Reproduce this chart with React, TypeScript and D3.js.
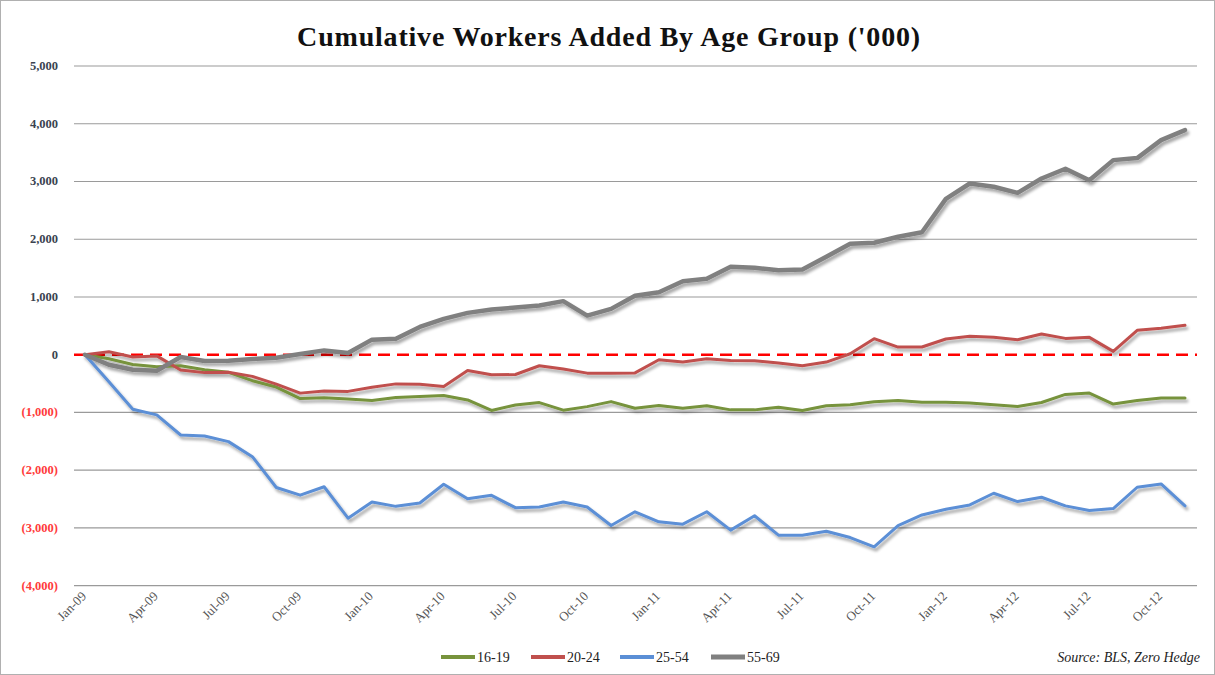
import React from "react";
import * as d3 from "d3";

const W = 1215;
const H = 675;

const months: string[] = (() => {
  const names = ["Jan", "Feb", "Mar", "Apr", "May", "Jun", "Jul", "Aug", "Sep", "Oct", "Nov", "Dec"];
  const out: string[] = [];
  for (let y = 9; y <= 12; y++) {
    for (let m = 0; m < 12; m++) {
      out.push(`${names[m]}-${String(y).padStart(2, "0")}`);
    }
  }
  return out.slice(0, 47); // Jan-09 .. Nov-12
})();

const xTickLabels = [
  "Jan-09", "Apr-09", "Jul-09", "Oct-09",
  "Jan-10", "Apr-10", "Jul-10", "Oct-10",
  "Jan-11", "Apr-11", "Jul-11", "Oct-11",
  "Jan-12", "Apr-12", "Jul-12", "Oct-12",
];

const yTicks = [5000, 4000, 3000, 2000, 1000, 0, -1000, -2000, -3000, -4000];

const age1619 = [
  0, -70, -170, -210, -190, -260, -305, -450, -560, -760, -745, -768,
  -794, -742, -725, -707, -783, -965, -870, -829, -960, -899, -812, -928,
  -880, -926, -885, -955, -955, -909, -966, -885, -868, -816, -793, -821,
  -821, -838, -867, -896, -827, -688, -665, -855, -792, -751, -751,
];

const age2024 = [
  0, 50, -40, -20, -265, -310, -305, -375, -510, -665, -630, -635,
  -562, -505, -510, -551, -272, -348, -342, -191, -249, -319, -319, -315,
  -87, -127, -69, -98, -104, -145, -191, -127, 17, 278, 133, 133,
  272, 318, 301, 260, 358, 283, 301, 58, 422, 457, 509,
];

const age2554 = [
  0, -470, -945, -1042, -1390, -1407, -1505, -1766, -2299, -2432, -2287, -2830,
  -2551, -2626, -2568, -2243, -2493, -2435, -2649, -2638, -2551, -2638, -2957, -2720,
  -2894, -2934, -2720, -3038, -2789, -3125, -3125, -3056, -3166, -3328, -2958, -2775,
  -2676, -2601, -2399, -2543, -2468, -2618, -2699, -2665, -2295, -2237, -2618,
];

const age5569 = [
  0, -174, -260, -278, -40, -110, -104, -75, -52, 12, 75, 30,
  261, 278, 481, 620, 725, 783, 817, 852, 928, 678, 794, 1020,
  1082, 1273, 1314, 1522, 1505, 1464, 1476, 1696, 1921, 1939, 2043, 2121,
  2699, 2965, 2908, 2803, 3052, 3220, 3023, 3370, 3405, 3717, 3890,
];

const seriesNames = ["16-19", "20-24", "25-54", "55-69"];
const seriesColors = ["#77933c", "#c0504d", "#5b8fd6", "#808080"];
const seriesWidths = [3, 3, 3, 4.5];
const seriesData = [age1619, age2024, age2554, age5569];

const SERIF = "'Liberation Serif', 'DejaVu Serif', serif";

export default function App() {
  const x = d3.scalePoint<string>().domain(months).range([85, 1185]);
  const y = d3.scaleLinear().domain([-4000, 5000]).range([585.7, 66]);
  const gridX0 = 74;
  const gridX1 = 1197;

  const line = d3
    .line<number>()
    .x((_, i) => x(months[i]) as number)
    .y((d) => y(d));

  const fmt = (v: number) => (v < 0 ? `(${d3.format(",")(-v)})` : d3.format(",")(v));

  const legendItems = [
    { lx: 441, tx: 477 },
    { lx: 531, tx: 567 },
    { lx: 620, tx: 656 },
    { lx: 711, tx: 747 },
  ];

  const order = [2, 0, 1, 3];

  return (
    <svg
      width={W}
      height={H}
      style={{ position: "absolute", left: 0, top: 0, background: "#fff" }}
    >
      <defs>
        <filter id="shadow" x="-5%" y="-5%" width="110%" height="120%">
          <feGaussianBlur in="SourceAlpha" stdDeviation="1.5" />
          <feOffset dx="1.5" dy="2.5" result="off" />
          <feComponentTransfer>
            <feFuncA type="linear" slope="0.35" />
          </feComponentTransfer>
          <feMerge>
            <feMergeNode />
            <feMergeNode in="SourceGraphic" />
          </feMerge>
        </filter>
      </defs>
      <rect x={0.5} y={0.5} width={W - 1} height={H - 1} fill="#fff" stroke="#b0b0b0" />

      <text
        x={609}
        y={46}
        textAnchor="middle"
        fontFamily={SERIF}
        fontWeight="bold"
        fontSize={28}
        letterSpacing={0.8}
        fill="#111"
      >
        Cumulative Workers Added By Age Group ('000)
      </text>

      {yTicks.map((t) => (
        <g key={t}>
          {t !== 0 && (
            <line x1={gridX0} x2={gridX1} y1={y(t)} y2={y(t)} stroke="#9a9a9a" strokeWidth={1.2} />
          )}
          <text
            x={58}
            y={y(t) + 4}
            textAnchor="end"
            fontFamily={SERIF}
            fontSize={12.5}
            fontWeight="bold"
            fill={t < 0 ? "#ff3b3b" : "#3a4350"}
          >
            {fmt(t)}
          </text>
        </g>
      ))}

      <line
        x1={gridX0}
        x2={gridX1}
        y1={y(0)}
        y2={y(0)}
        stroke="#ff0000"
        strokeWidth={2.5}
        strokeDasharray="12 7"
      />

      {xTickLabels.map((lab) => {
        const px = (x(lab) as number) + 2;
        const py = 597;
        return (
          <text
            key={lab}
            transform={`translate(${px},${py}) rotate(-45)`}
            textAnchor="end"
            fontFamily={SERIF}
            fontSize={13}
            fill="#555"
          >
            {lab}
          </text>
        );
      })}

      <g filter="url(#shadow)">
        {order.map((k) => (
          <path
            key={seriesNames[k]}
            d={line(seriesData[k]) as string}
            fill="none"
            stroke={seriesColors[k]}
            strokeWidth={seriesWidths[k]}
            strokeLinejoin="round"
            strokeLinecap="round"
          />
        ))}
      </g>

      {seriesNames.map((n, k) => (
        <g key={n}>
          <line
            x1={legendItems[k].lx}
            x2={legendItems[k].lx + 34}
            y1={657}
            y2={657}
            stroke={seriesColors[k]}
            strokeWidth={k === 3 ? 5 : 4}
          />
          <text
            x={legendItems[k].tx}
            y={662}
            fontFamily={SERIF}
            fontSize={14}
            fill="#222"
          >
            {n}
          </text>
        </g>
      ))}

      <text
        x={1200}
        y={662}
        textAnchor="end"
        fontFamily={SERIF}
        fontStyle="italic"
        fontSize={14}
        fill="#222"
      >
        Source: BLS, Zero Hedge
      </text>
    </svg>
  );
}
